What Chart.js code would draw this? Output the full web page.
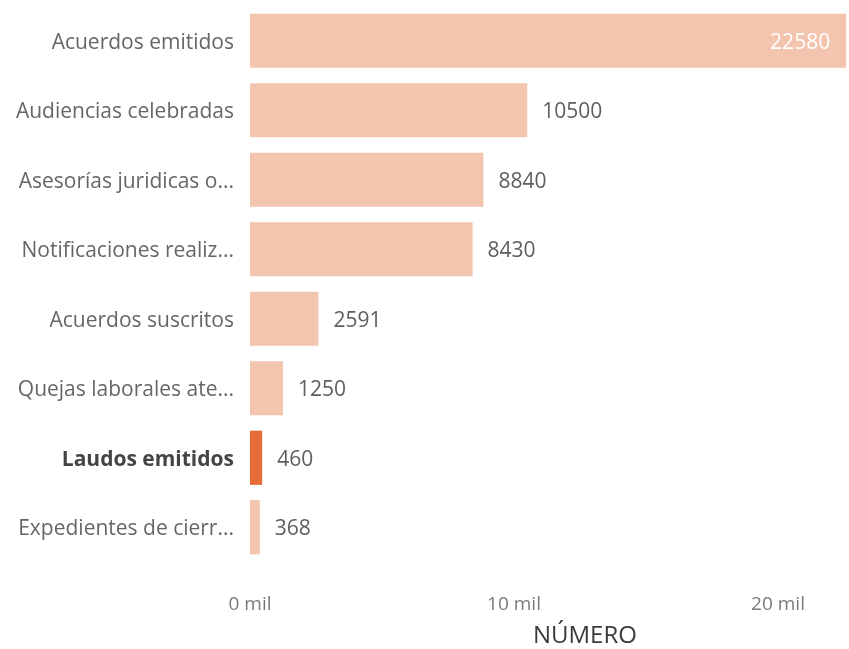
<!DOCTYPE html>
<html>
<head>
<meta charset="utf-8">
<script src="https://cdn.jsdelivr.net/npm/chart.js@4"></script>
<style>
html,body{margin:0;padding:0;background:#fff;}
#wrap{width:849px;height:649px;position:relative;}
</style>
</head>
<body>
<div id="wrap"><canvas id="chart" width="849" height="649"></canvas></div>
<script>
const categories=['Acuerdos emitidos','Audiencias celebradas','Asesorías juridicas o...','Notificaciones realiz...','Acuerdos suscritos','Quejas laborales ate...','Laudos emitidos','Expedientes de cierr...'];
const values=[22580,10500,8840,8430,2591,1250,460,368];
const highlighted=['Laudos emitidos'];
const tickValues=[0,10000,20000];
const axisTitle='NÚMERO';

const light='#F3C4AE', strong='#E66C37';
const fontFam="'Open Sans', 'Noto Sans', sans-serif";

const valueLabels={
  id:'valueLabels',
  afterDatasetsDraw(chart){
    const ctx=chart.ctx, meta=chart.getDatasetMeta(0);
    ctx.save();
    ctx.font='21px '+fontFam;
    ctx.textBaseline='middle';
    meta.data.forEach((bar,i)=>{
      const txt=String(values[i]);
      const w=ctx.measureText(txt).width;
      if(bar.x+15+w>chart.chartArea.right){
        ctx.fillStyle='#ffffff'; ctx.textAlign='right';
        ctx.fillText(txt,bar.x-16,bar.y+2);
      }else{
        ctx.fillStyle='#605E5C'; ctx.textAlign='left';
        ctx.fillText(txt,bar.x+15,bar.y+2);
      }
    });
    // axis title
    const a=chart.chartArea;
    ctx.font='24px '+fontFam;
    ctx.fillStyle='#3a3a3a';
    ctx.textAlign='center';
    ctx.fillText(axisTitle,a.left+(a.right-a.left)*0.56,636);
    ctx.restore();
  }
};

new Chart(document.getElementById('chart'),{
  type:'bar',
  data:{labels:categories,datasets:[{
    data:values,
    backgroundColor:categories.map(c=>highlighted.includes(c)?strong:light),
    barPercentage:0.78,categoryPercentage:1
  }]},
  options:{
    indexAxis:'y',responsive:false,animation:false,
    layout:{padding:{top:6,right:1,bottom:36,left:0}},
    plugins:{legend:{display:false},tooltip:{enabled:false}},
    scales:{
      x:{min:0,max:22650,
        grid:{display:false,drawTicks:false},border:{display:false},
        afterBuildTicks:s=>{s.ticks=tickValues.map(v=>({value:v}));},
        afterFit:s=>{s.height=51;s.paddingLeft=0;s.paddingRight=0;},
        ticks:{padding:31,maxRotation:0,autoSkip:false,color:'#7a7a7a',font:{size:19,family:fontFam},
          callback:v=>(v/1000)+' mil'}
      },
      y:{
        grid:{display:false,drawTicks:false},border:{display:false},
        afterFit:s=>{s.width=250;s.paddingTop=0;s.paddingBottom=0;},
        ticks:{padding:16,labelOffset:2,
          color:c=>highlighted.includes(categories[c.index])?'#444':'#666',
          font:c=>({size:21,family:fontFam,weight:highlighted.includes(categories[c.index])?'bold':'normal'})}
      }
    }
  },
  plugins:[valueLabels]
});
</script>
</body>
</html>
